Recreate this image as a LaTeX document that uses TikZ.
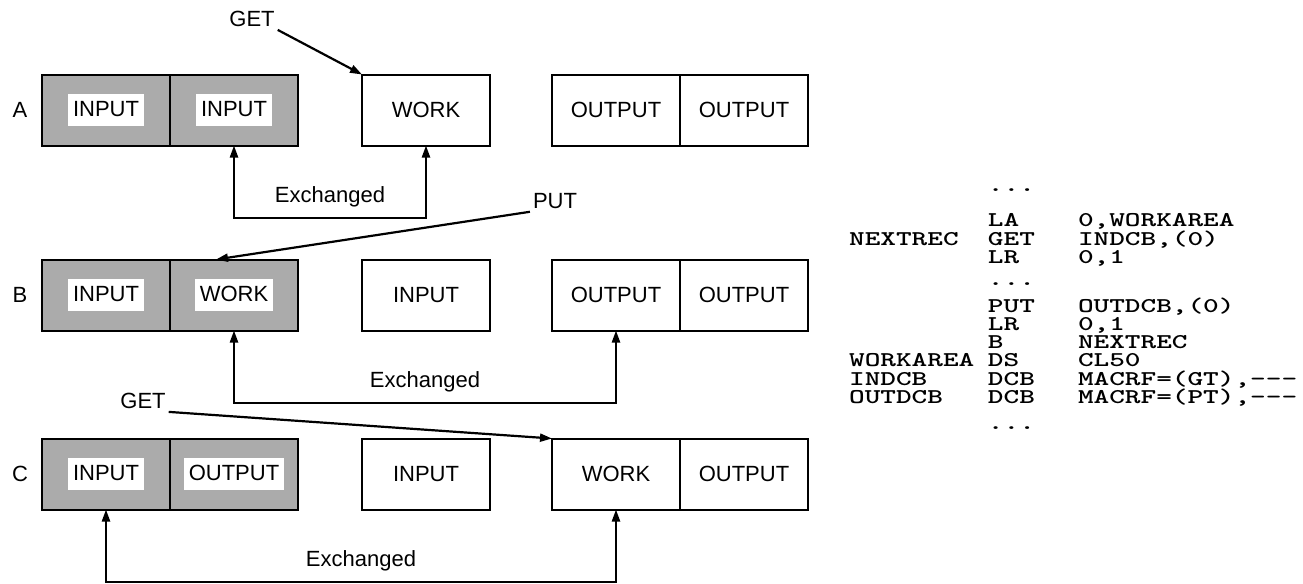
\documentclass[tikz,border=0pt]{standalone}
\usepackage{fontspec}
\usepackage{graphicx}
\setmainfont{Liberation Sans}
\usetikzlibrary{arrows.meta,positioning}
% white patch behind the text of a shaded cell
\newcommand{\onwhite}[1]{{\setlength{\fboxsep}{2.5pt}\colorbox{white}{\rule[-2.5pt]{0pt}{11pt}#1}}}
% one line of the listing: label, operation, operands
\newcommand{\codeline}[3]{\scalebox{1.42}[1]{\makebox[48.9pt][l]{#1}\makebox[31.7pt][l]{#2}#3}}
\newcommand{\dashes}{-\kern0pt-\kern0pt-}

\begin{document}
\begin{tikzpicture}[x=0.5pt,y=-0.5pt,->,>={Triangle[length=6pt,width=4pt]},line width=1.1pt,
    cell/.style={draw,line width=1pt,minimum width=64pt,minimum height=35.5pt,inner sep=0pt,outer sep=0pt,font=\fontsize{11}{13}\selectfont},
    shaded/.style={cell,fill=black!33},
    lbl/.style={font=\fontsize{11}{13}\selectfont,inner sep=1pt},
    code/.style={font=\ttfamily\bfseries\fontsize{10.5}{10.5}\selectfont,inner sep=0pt,anchor=base west}]
        \useasboundingbox (0,0) rectangle (1303,584);

        % row A
        \node[lbl] (rowA) at (20,110) {A};
        \node[shaded] (a1) at (106,110) {\onwhite{INPUT}};
        \node[shaded] (a2) [right=0pt of a1] {\onwhite{INPUT}};
        \node[cell] (a3) [right=32pt of a2] {WORK};
        \node[cell] (a4) [right=31pt of a3] {OUTPUT};
        \node[cell] (a5) [right=0pt of a4] {OUTPUT};

        % row B
        \node[lbl] (rowB) at (20,295) {B};
        \node[shaded] (b1) at (106,295) {\onwhite{INPUT}};
        \node[shaded] (b2) [right=0pt of b1] {\onwhite{WORK}};
        \node[cell] (b3) [right=32pt of b2] {INPUT};
        \node[cell] (b4) [right=31pt of b3] {OUTPUT};
        \node[cell] (b5) [right=0pt of b4] {OUTPUT};

        % row C
        \node[lbl] (rowC) at (20,474) {C};
        \node[shaded] (c1) at (106,474) {\onwhite{INPUT}};
        \node[shaded] (c2) [right=0pt of c1] {\onwhite{OUTPUT}};
        \node[cell] (c3) [right=32pt of c2] {INPUT};
        \node[cell] (c4) [right=31pt of c3] {WORK};
        \node[cell] (c5) [right=0pt of c4] {OUTPUT};

        % GET / PUT pointers
        \node[lbl] (getA) at (252,19) {GET};
        \node[lbl] (put) at (555,201) {PUT};
        \node[lbl] (getC) at (143,401) {GET};
        \draw (getA.south east) -- (a3.north west);
        \draw (put.south west) -- ([xshift=-9pt]b2.north);
        \draw (getC.south east) -- (c4.north west);

        % exchanged buffers
        \coordinate (xa) at (0,218);
        \coordinate (xb) at (0,403);
        \coordinate (xc) at (0,582);
        \draw[<->] (a2.south) -- (a2.south |- xa) -| node[lbl,above=4pt,pos=0.25] {Exchanged} (a3.south);
        \draw[<->] (b2.south) -- (b2.south |- xb) -| node[lbl,above=4pt,pos=0.25] {Exchanged} (b4.south);
        \draw[<->] (c1.south) -- (c1.south |- xc) -| node[lbl,above=4pt,pos=0.25] {Exchanged} (c4.south);

        % the listing
        \node[code] (ln1) at (848,191) {\codeline{}{...}{}};
        \node[code] (ln2) at (848,226) {\codeline{}{LA}{0,WORKAREA}};
        \node[code] (ln3) at (848,245) {\codeline{NEXTREC}{GET}{INDCB,(0)}};
        \node[code] (ln4) at (848,263) {\codeline{}{LR}{0,1}};
        \node[code] (ln5) at (848,285) {\codeline{}{...}{}};
        \node[code] (ln6) at (848,312) {\codeline{}{PUT}{OUTDCB,(0)}};
        \node[code] (ln7) at (848,330) {\codeline{}{LR}{0,1}};
        \node[code] (ln8) at (848,348) {\codeline{}{B}{NEXTREC}};
        \node[code] (ln9) at (848,366) {\codeline{WORKAREA}{DS}{CL50}};
        \node[code] (ln10) at (848,385) {\codeline{INDCB}{DCB}{MACRF=(GT),\dashes}};
        \node[code] (ln11) at (848,403) {\codeline{OUTDCB}{DCB}{MACRF=(PT),\dashes}};
        \node[code] (ln12) at (848,429) {\codeline{}{...}{}};
\end{tikzpicture}
\end{document}
